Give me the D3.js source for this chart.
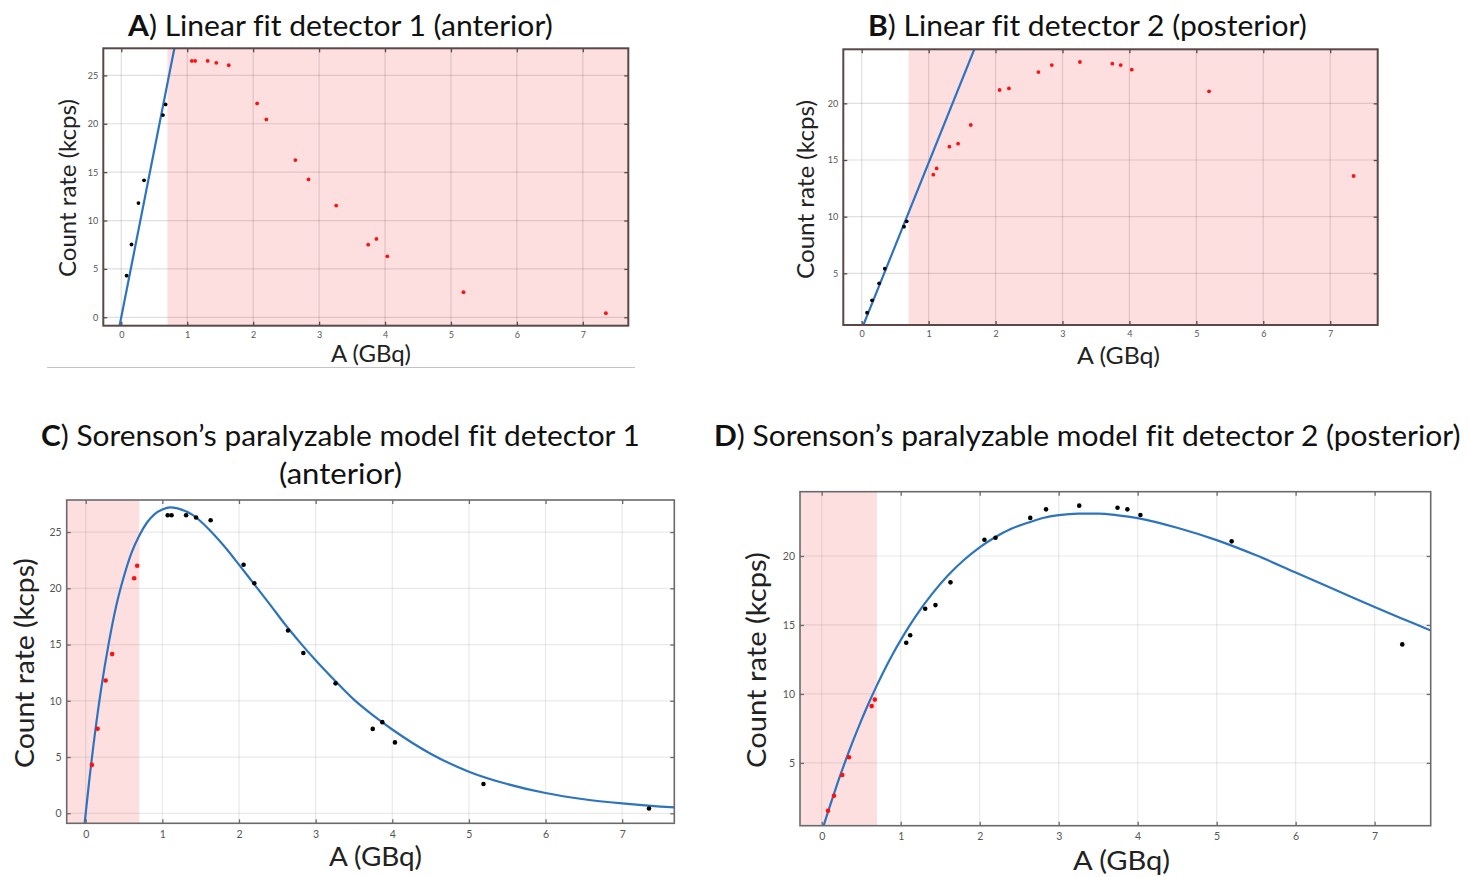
<!DOCTYPE html>
<html>
<head>
<meta charset="utf-8">
<script src="https://cdn.jsdelivr.net/npm/d3@7/dist/d3.min.js"></script>
<style>
  html, body { margin: 0; padding: 0; background: #fff; }
  svg { display: block; }
  text { font-variant-ligatures: none; font-feature-settings: "liga" 0; }
</style>
</head>
<body>
<svg id="fig" width="1469" height="877"></svg>
<script>
// Measured activities (GBq) and count rates (kcps) for both detectors
const activity  = [0.08, 0.155, 0.26, 0.345, 0.632, 0.672, 1.07, 1.12, 1.31, 1.44, 1.63, 2.06, 2.20, 2.64, 2.84, 3.26, 3.745, 3.87, 4.035, 5.19, 7.35];
const rateDet1  = [4.3, 7.52, 11.8, 14.15, 20.9, 22.0, 26.5, 26.5, 26.5, 26.3, 26.05, 22.1, 20.45, 16.25, 14.25, 11.55, 7.5, 8.1, 6.3, 2.6, 0.42];
const rateDet2  = [1.53, 2.62, 4.12, 5.41, 9.12, 9.59, 13.71, 14.26, 16.18, 16.44, 18.09, 21.18, 21.32, 22.76, 23.38, 23.65, 23.5, 23.38, 22.97, 21.06, 13.59];

// Upper limit of the low-activity (linear) region, GBq
const linearLimit = 0.7;

// Linear fits (end points, GBq / kcps)
const linFitA1 = [-0.05, 0.85];
const linFitR1 = [-1.70, 29.35];
const linFitA2 = [-0.05, 1.75];
const linFitR2 = [-0.66, 25.76];

// Paralyzable model fits, sampled
const sorFitA  = [-0.02, 0, 0.05, 0.1, 0.2, 0.3, 0.4, 0.5, 0.6, 0.7, 0.8, 0.9, 1.0, 1.1, 1.2, 1.4, 1.6, 1.8, 2.0, 2.2, 2.4, 2.6, 2.8, 3.0, 3.25, 3.5, 3.75, 4.0, 4.5, 5.0, 5.5, 6.0, 6.5, 7.0, 7.5, 7.75];
const sorFitR1 = [-1.3, 0, 3.15, 6.0, 11.0, 15.1, 18.5, 21.1, 23.2, 24.7, 25.85, 26.6, 27.0, 27.2, 27.1, 26.5, 25.3, 23.8, 22.1, 20.35, 18.6, 16.8, 15.15, 13.6, 11.8, 10.1, 8.7, 7.45, 5.3, 3.7, 2.6, 1.8, 1.25, 0.88, 0.6, 0.5];
const sorFitR2 = [-0.38, 0, 0.93, 1.82, 3.53, 5.14, 6.65, 8.07, 9.4, 10.64, 11.81, 12.9, 13.9, 14.84, 15.72, 17.27, 18.6, 19.71, 20.63, 21.38, 21.97, 22.39, 22.75, 22.96, 23.07, 23.07, 22.95, 22.75, 22.05, 21.15, 20.05, 18.8, 17.55, 16.3, 15.1, 14.5];

// Axis ticks
const xTicks = [0, 1, 2, 3, 4, 5, 6, 7];
const yTicksAnt = [0, 5, 10, 15, 20, 25];
const yTicksPost = [5, 10, 15, 20];

const svg = d3.select("#fig");
const FONT = "Lato, 'Open Sans', 'Noto Sans', sans-serif";
const PINK = "#fddfe0";
const BLUE = "#2c74c0";

// Horizontally squeeze a text node to a target width (Calibri-like narrow look)
function fitWidth(sel, x0, y, target) {
  const w = sel.node().getComputedTextLength();
  sel.attr("x", 0).attr("y", 0)
     .attr("transform", `translate(${x0},${y}) scale(${target / w},1)`);
}

function title(parts, x0, y, target, size) {
  const t = svg.append("text").attr("font-family", FONT).attr("font-size", size).attr("fill", "#111");
  parts.forEach(p => t.append("tspan").attr("font-weight", p.bold ? 700 : 400).text(p.text));
  fitWidth(t, x0, y, target);
}

function panel(cfg) {
  const { x0, x1, y0, y1 } = cfg.box;
  const x = d3.scaleLinear().domain(cfg.xDomain).range([x0, x1]);
  const y = d3.scaleLinear().domain(cfg.yDomain).range([y1, y0]);
  const g = svg.append("g");
  const clipId = "clip-" + cfg.id;
  svg.append("clipPath").attr("id", clipId)
    .append("rect").attr("x", x0).attr("y", y0).attr("width", x1 - x0).attr("height", y1 - y0);
  const body = g.append("g").attr("clip-path", `url(#${clipId})`);

  // shaded region: excluded from the fit
  const shadeX0 = cfg.shadeLow ? x0 : x(linearLimit);
  const shadeX1 = cfg.shadeLow ? x(linearLimit) : x1;
  body.append("rect").attr("x", shadeX0).attr("y", y0)
    .attr("width", shadeX1 - shadeX0).attr("height", y1 - y0).attr("fill", PINK);

  // grid
  body.selectAll(".gx").data(cfg.xTicks).join("line")
    .attr("x1", d => x(d)).attr("x2", d => x(d)).attr("y1", y0).attr("y2", y1)
    .attr("stroke", "#3a2a2a").attr("stroke-opacity", cfg.gridOpacity).attr("stroke-width", 1.2);
  body.selectAll(".gy").data(cfg.yTicks).join("line")
    .attr("y1", d => y(d)).attr("y2", d => y(d)).attr("x1", x0).attr("x2", x1)
    .attr("stroke", "#3a2a2a").attr("stroke-opacity", cfg.gridOpacity).attr("stroke-width", 1.2);

  // fit line
  const pts = cfg.fitX.map((a, i) => [a, cfg.fitY[i]]);
  const line = d3.line().x(d => x(d[0])).y(d => y(d[1]));
  if (cfg.smooth) line.curve(d3.curveMonotoneX);
  body.append("path").datum(pts).attr("d", line)
    .attr("fill", "none").attr("stroke", BLUE).attr("stroke-width", 2.2);

  // measured points
  const data = activity.map((a, i) => ({ a, r: cfg.rates[i] }));
  body.selectAll("circle.pt").data(data).join("circle")
    .attr("cx", d => x(d.a)).attr("cy", d => y(d.r)).attr("r", cfg.dotR)
    .attr("fill", d => ((d.a < linearLimit) === cfg.shadeLow) ? "#ff1010" : "#000");

  // axes with inward ticks on all sides
  const tl = cfg.tickLen;
  const axB = d3.axisBottom(x).tickValues(cfg.xTicks).tickSize(-tl).tickPadding(tl + cfg.xPad).tickFormat(d3.format("d"));
  const axT = d3.axisTop(x).tickValues(cfg.xTicks).tickSize(-tl).tickFormat("");
  const axL = d3.axisLeft(y).tickValues(cfg.yTicks).tickSize(-tl).tickPadding(tl + cfg.yPad).tickFormat(d3.format("d"));
  const axR = d3.axisRight(y).tickValues(cfg.yTicks).tickSize(-tl).tickFormat("");
  const styleAx = s => {
    s.select(".domain").remove();
    s.selectAll(".tick line").attr("stroke", cfg.frame).attr("stroke-width", 1.3);
    s.selectAll("text").attr("font-family", FONT).attr("font-size", cfg.tickFont).attr("fill", "#555");
  };
  g.append("g").attr("transform", `translate(0,${y1})`).call(axB).call(styleAx);
  g.append("g").attr("transform", `translate(0,${y0})`).call(axT).call(styleAx);
  g.append("g").attr("transform", `translate(${x0},0)`).call(axL).call(styleAx);
  g.append("g").attr("transform", `translate(${x1},0)`).call(axR).call(styleAx);

  g.append("rect").attr("x", x0).attr("y", y0).attr("width", x1 - x0).attr("height", y1 - y0)
    .attr("fill", "none").attr("stroke", cfg.frame).attr("stroke-width", cfg.frameW);

  // axis titles
  const xl = svg.append("text").attr("font-family", FONT).attr("font-size", cfg.labFont).attr("fill", "#222")
    .text("A (GBq)");
  fitWidth(xl, cfg.xLab[0], cfg.xLab[1], cfg.xLab[2]);
  const yl = svg.append("text").attr("font-family", FONT).attr("font-size", cfg.labFont).attr("fill", "#222")
    .text("Count rate (kcps)");
  const w = yl.node().getComputedTextLength();
  yl.attr("x", 0).attr("y", 0)
    .attr("transform", `translate(${cfg.yLab[0]},${cfg.yLab[1]}) rotate(-90) scale(${cfg.yLab[2] / w},1)`);
}

// A) linear fit, detector 1
panel({
  id: "a", box: { x0: 103.3, x1: 628.3, y0: 48.3, y1: 325.7 },
  xDomain: [-0.273, 7.69], yDomain: [-0.87, 27.8], xTicks, yTicks: yTicksAnt,
  rates: rateDet1, fitX: linFitA1, fitY: linFitR1, smooth: false, shadeLow: false,
  dotR: 1.9, frame: "#5a4848", frameW: 2, gridOpacity: 0.15, tickLen: 4, tickFont: 9, xPad: 2, yPad: 1,
  labFont: 23, xLab: [331, 362, 80], yLab: [76, 277, 178]
});

// B) linear fit, detector 2
panel({
  id: "b", box: { x0: 843.3, x1: 1377.7, y0: 49.3, y1: 325 },
  xDomain: [-0.275, 7.71], yDomain: [0.44, 24.77], xTicks, yTicks: yTicksPost,
  rates: rateDet2, fitX: linFitA2, fitY: linFitR2, smooth: false, shadeLow: false,
  dotR: 1.9, frame: "#5a4848", frameW: 2, gridOpacity: 0.15, tickLen: 4, tickFont: 9, xPad: 2, yPad: 1,
  labFont: 23, xLab: [1077, 364, 83], yLab: [814, 279, 179]
});

// C) paralyzable model, detector 1
panel({
  id: "c", box: { x0: 66.7, x1: 674.3, y0: 500, y1: 823.3 },
  xDomain: [-0.248, 7.68], yDomain: [-0.89, 27.85], xTicks, yTicks: yTicksAnt,
  rates: rateDet1, fitX: sorFitA, fitY: sorFitR1, smooth: true, shadeLow: true,
  dotR: 2.3, frame: "#6a6a6a", frameW: 1.6, gridOpacity: 0.1, tickLen: 4, tickFont: 10.5, xPad: 3, yPad: 1,
  labFont: 27, xLab: [329, 866, 93], yLab: [34, 768, 210]
});

// D) paralyzable model, detector 2
panel({
  id: "d", box: { x0: 800, x1: 1430.7, y0: 491.7, y1: 825.7 },
  xDomain: [-0.275, 7.71], yDomain: [0.45, 24.66], xTicks, yTicks: yTicksPost,
  rates: rateDet2, fitX: sorFitA, fitY: sorFitR2, smooth: true, shadeLow: true,
  dotR: 2.3, frame: "#6a6a6a", frameW: 1.6, gridOpacity: 0.1, tickLen: 4, tickFont: 10.5, xPad: 3, yPad: 1,
  labFont: 27, xLab: [1073, 870, 97], yLab: [766, 768, 216]
});

// separator under panel A
svg.append("line").attr("x1", 47).attr("x2", 635).attr("y1", 367.5).attr("y2", 367.5)
  .attr("stroke", "#c4c4c4").attr("stroke-width", 1);

// panel titles
title([{ text: "A", bold: true }, { text: ") Linear fit detector 1 (anterior)" }], 128, 36, 425, 28);
title([{ text: "B", bold: true }, { text: ") Linear fit detector 2 (posterior)" }], 868, 36, 439, 28);
title([{ text: "C", bold: true }, { text: ") Sorenson\u2019s paralyzable model fit detector 1" }], 41, 446, 599, 28);
title([{ text: "(anterior)" }], 279, 484, 123, 28);
title([{ text: "D", bold: true }, { text: ") Sorenson\u2019s paralyzable model fit detector 2 (posterior)" }], 714, 446, 747, 28);
</script>
</body>
</html>
